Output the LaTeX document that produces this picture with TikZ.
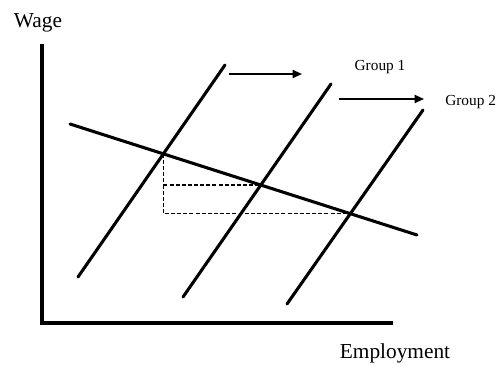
\documentclass[tikz,border=0pt]{standalone}
\usepackage{fontspec}
\setmainfont{Liberation Serif}
\usetikzlibrary{arrows.meta, intersections}

\begin{document}
\begin{tikzpicture}[
  x=0.75pt, y=-0.75pt,
  axis/.style={line width=2.5pt},
  curve/.style={line width=2.3pt, line cap=round},
  guide/.style={line width=1.2pt, dash pattern=on 3pt off 1.6pt},
  movearrow/.style={-{Triangle[length=7pt, width=6pt]}, line width=1.4pt},
  axislabel/.style={font=\fontsize{16}{18}\selectfont, inner sep=0pt},
  grouplabel/.style={font=\fontsize{11.5}{13}\selectfont, inner sep=0pt}
]
  \useasboundingbox (0,0) rectangle (499,366);

  % Achsen
  \coordinate (top) at (42,44);
  \coordinate (origin) at (42,323);
  \coordinate (right) at (393,323);
  \draw[axis] (top) -- (origin) -- (right);
  \node[axislabel] (wage) at (38,23) {Wage};
  \node[axislabel] (emp) at (395,353) {Employment};

  % Nachfrage und Angebot
  \coordinate (d1) at (70,124);
  \coordinate (d2) at (417,235);
  \coordinate (s1a) at (78,277);
  \coordinate (s1b) at (225,65);
  \coordinate (s2a) at (183,297);
  \coordinate (s2b) at (331,84);
  \coordinate (s3a) at (287,304);
  \coordinate (s3b) at (423,110);
  \draw[curve, name path=dem] (d1) -- (d2);
  \draw[curve, name path=sup1] (s1a) -- (s1b);
  \draw[curve, name path=sup2] (s2a) -- (s2b);
  \draw[curve, name path=sup3] (s3a) -- (s3b);

  % Gleichgewichte
  \path[name intersections={of=dem and sup1, by=e1}];
  \path[name intersections={of=dem and sup2, by=e2}];
  \path[name intersections={of=dem and sup3, by=e3}];
  \draw[guide] (e1) |- (e3);
  \draw[guide] (e1 |- e2) -- (e2);

  % Verschiebungen
  \coordinate (a1s) at (229,74);
  \coordinate (a1e) at (302,74);
  \coordinate (a2s) at (339,99);
  \coordinate (a2e) at (424,99);
  \draw[movearrow] (a1s) -- (a1e);
  \draw[movearrow] (a2s) -- (a2e);
  \node[grouplabel] (g1) at (380,67) {Group 1};
  \node[grouplabel, anchor=west] (g2) at (445,102) {Group 2};
\end{tikzpicture}
\end{document}
